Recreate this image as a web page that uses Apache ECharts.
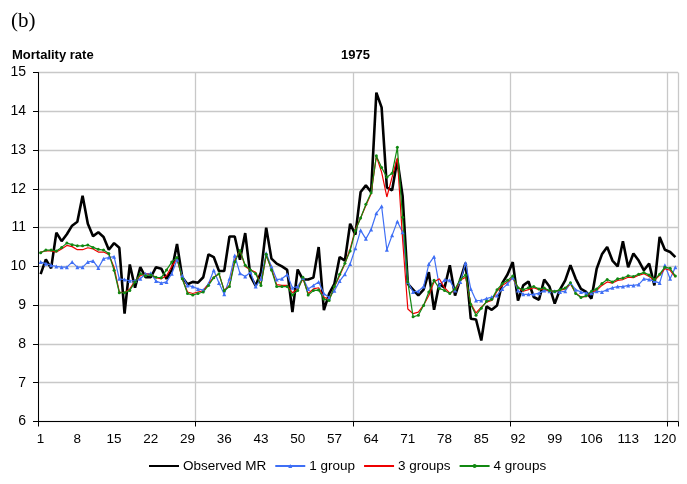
<!DOCTYPE html>
<html>
<head>
<meta charset="utf-8">
<script src="https://cdn.jsdelivr.net/npm/echarts@6/dist/echarts.min.js"></script>
<style>
html,body{margin:0;padding:0;background:#fff;}
#chart{width:687px;height:484px;}
</style>
</head>
<body>
<div id="chart"></div>
<script>
var categories = [];
for (var c = 1; c <= 122; c++) categories.push(String(c));

var observedMR = [9.8,10.18,9.95,10.87,10.65,10.83,11.05,11.15,11.82,11.1,
10.78,10.88,10.76,10.43,10.6,10.48,8.78,10.05,9.45,9.98,
9.72,9.72,9.98,9.94,9.68,9.9,10.58,9.72,9.54,9.6,
9.58,9.72,10.31,10.24,9.88,9.88,10.77,10.77,10.17,10.86,
9.75,9.5,9.85,11.0,10.2,10.07,10.0,9.91,8.82,9.92,
9.66,9.66,9.71,10.5,8.87,9.3,9.55,10.24,10.15,11.1,
10.82,11.92,12.09,11.92,14.48,14.1,12.04,11.96,12.75,11.82,
9.55,9.4,9.25,9.4,9.85,8.88,9.55,9.45,10.03,9.25,
9.66,10.09,8.65,8.63,8.09,8.97,8.88,8.99,9.57,9.79,
10.11,9.12,9.51,9.61,9.21,9.14,9.66,9.48,9.04,9.4,
9.64,10.03,9.68,9.42,9.34,9.17,9.94,10.31,10.5,10.15,
10.0,10.65,9.98,10.33,10.15,9.9,10.07,9.51,10.76,10.43,
10.37,10.24];

var group1 = [10.11,10.07,10.03,10.0,9.98,9.98,10.11,9.98,9.98,10.11,
10.14,9.96,10.2,10.23,10.25,9.68,9.66,9.63,9.63,9.68,
9.81,9.82,9.62,9.57,9.6,9.81,10.17,9.76,9.51,9.48,
9.42,9.39,9.55,9.9,9.57,9.28,9.68,10.28,9.82,9.74,
9.85,9.48,9.68,10.34,10.0,9.66,9.68,9.79,9.45,9.48,
9.71,9.42,9.51,9.6,9.3,9.2,9.37,9.62,9.8,10.06,
10.47,10.93,10.71,10.95,11.37,11.55,10.43,10.8,11.16,10.88,
9.6,9.34,9.36,9.48,10.06,10.25,9.5,9.65,9.64,9.38,
9.6,10.09,9.42,9.12,9.12,9.17,9.21,9.25,9.42,9.55,
9.71,9.38,9.28,9.28,9.28,9.31,9.38,9.36,9.36,9.34,
9.36,9.57,9.4,9.34,9.31,9.31,9.36,9.34,9.4,9.45,
9.48,9.48,9.51,9.51,9.53,9.68,9.66,9.62,9.57,10.03,
9.68,9.98];

var group3 = [10.37,10.4,10.4,10.37,10.45,10.54,10.51,10.43,10.43,10.48,
10.45,10.37,10.37,10.31,9.98,9.34,9.32,9.42,9.63,9.76,
9.81,9.79,9.71,9.68,9.76,10.0,10.2,9.68,9.34,9.3,
9.34,9.37,9.55,9.72,9.81,9.38,9.51,10.15,10.41,10.0,
9.91,9.85,9.53,10.28,9.94,9.53,9.51,9.51,9.32,9.42,
9.68,9.3,9.42,9.45,9.21,9.14,9.47,9.76,10.07,10.45,
10.95,11.25,11.57,11.87,12.84,12.43,11.79,12.3,12.8,10.7,
8.9,8.78,8.82,9.0,9.25,9.6,9.68,9.45,9.31,9.38,
9.64,9.72,9.04,8.8,8.95,9.08,9.12,9.36,9.51,9.6,
9.71,9.45,9.36,9.4,9.45,9.4,9.42,9.36,9.36,9.38,
9.42,9.55,9.31,9.21,9.22,9.34,9.38,9.51,9.6,9.57,
9.64,9.66,9.72,9.71,9.77,9.81,9.74,9.64,9.77,9.94,
9.9,9.72];

var group4 = [10.35,10.42,10.42,10.4,10.49,10.6,10.56,10.53,10.53,10.55,
10.49,10.44,10.42,10.33,9.9,9.32,9.32,9.38,9.6,9.81,
9.76,9.78,9.72,9.71,9.91,10.11,10.23,9.68,9.3,9.26,
9.3,9.34,9.51,9.71,9.81,9.37,9.48,10.11,10.41,10.03,
9.91,9.81,9.51,10.31,9.91,9.48,9.48,9.48,9.26,9.38,
9.72,9.26,9.38,9.39,9.16,9.12,9.48,9.8,10.08,10.4,
10.92,11.25,11.6,11.9,12.85,12.55,12.3,12.4,13.07,11.27,
9.6,8.7,8.74,8.99,9.34,9.64,9.43,9.38,9.3,9.42,
9.66,9.78,9.02,8.74,8.92,9.1,9.15,9.4,9.55,9.64,
9.75,9.45,9.4,9.45,9.48,9.42,9.44,9.38,9.35,9.4,
9.44,9.58,9.3,9.2,9.24,9.36,9.42,9.56,9.66,9.6,
9.68,9.7,9.76,9.74,9.8,9.84,9.78,9.66,9.8,9.98,
9.95,9.75];

var seriesNames = ['Observed MR', '1 group', '3 groups', '4 groups'];
var yMin = 6, yMax = 15, yStep = 1;
var labelEvery = 7;
var gridEvery = 30;

var chart = echarts.init(document.getElementById('chart'), null, {renderer: 'canvas'});
var font = '"Liberation Sans", Arial, sans-serif';
var hidden = {color: 'rgba(0,0,0,0)', borderWidth: 0};

var option = {
  animation: false,
  backgroundColor: '#ffffff',
  title: [
    {text: '(b)', left: 6, top: 6, textStyle: {fontFamily: '"Liberation Serif", "Times New Roman", serif', fontSize: 21, fontWeight: 'normal', color: '#000'}},
    {text: 'Mortality rate', left: 7, top: 44, textStyle: {fontFamily: font, fontSize: 13, fontWeight: 'bold', color: '#000'}},
    {text: '1975', left: 336, top: 44, textStyle: {fontFamily: font, fontSize: 13, fontWeight: 'bold', color: '#000'}}
  ],
  legend: {
    data: [
      {name: seriesNames[0], itemStyle: hidden},
      {name: seriesNames[1]},
      {name: seriesNames[2], itemStyle: hidden},
      {name: seriesNames[3]}
    ],
    bottom: 6,
    left: 143,
    itemWidth: 30,
    itemHeight: 5,
    itemGap: 8,
    textStyle: {fontFamily: font, fontSize: 13.5, color: '#000', padding: [0, 0, 0, -1]}
  },
  grid: {left: 38, right: 9, top: 72.5, bottom: 62.5, containLabel: false},
  xAxis: {
    type: 'category',
    data: categories,
    boundaryGap: true,
    axisLine: {show: true, lineStyle: {color: '#000', width: 1}},
    axisTick: {show: true, length: 5, interval: function (i) { return i % gridEvery === 0; }, lineStyle: {color: '#000'}},
    axisLabel: {interval: labelEvery - 1, margin: 11, fontFamily: font, fontSize: 13.5, color: '#000'},
    splitLine: {show: true, interval: function (i) { return i % gridEvery === 0; }, lineStyle: {color: '#c8c8c8', width: 1.3}}
  },
  yAxis: {
    type: 'value',
    min: yMin, max: yMax, interval: yStep,
    axisLine: {show: true, lineStyle: {color: '#000', width: 1}},
    axisTick: {show: true, length: 5, lineStyle: {color: '#000'}},
    axisLabel: {margin: 12, fontFamily: font, fontSize: 14, color: '#000'},
    splitLine: {show: true, lineStyle: {color: '#c8c8c8', width: 1.3}}
  },
  series: [
    {name: seriesNames[0], type: 'line', data: observedMR, showSymbol: false, symbol: 'none',
     lineStyle: {color: '#000', width: 2.6}, itemStyle: {color: '#000'}},
    {name: seriesNames[1], type: 'line', data: group1, showSymbol: true, showAllSymbol: true, symbol: 'triangle', symbolSize: 4,
     lineStyle: {color: '#3f6ff5', width: 1.2}, itemStyle: {color: '#3f6ff5'}},
    {name: seriesNames[2], type: 'line', data: group3, showSymbol: false, symbol: 'none',
     lineStyle: {color: '#ee0000', width: 1.2}, itemStyle: {color: '#ee0000'}},
    {name: seriesNames[3], type: 'line', data: group4, showSymbol: true, showAllSymbol: true, symbol: 'circle', symbolSize: 3,
     lineStyle: {color: '#118811', width: 1.2}, itemStyle: {color: '#118811'}}
  ]
};
chart.setOption(option);
</script>
</body>
</html>
